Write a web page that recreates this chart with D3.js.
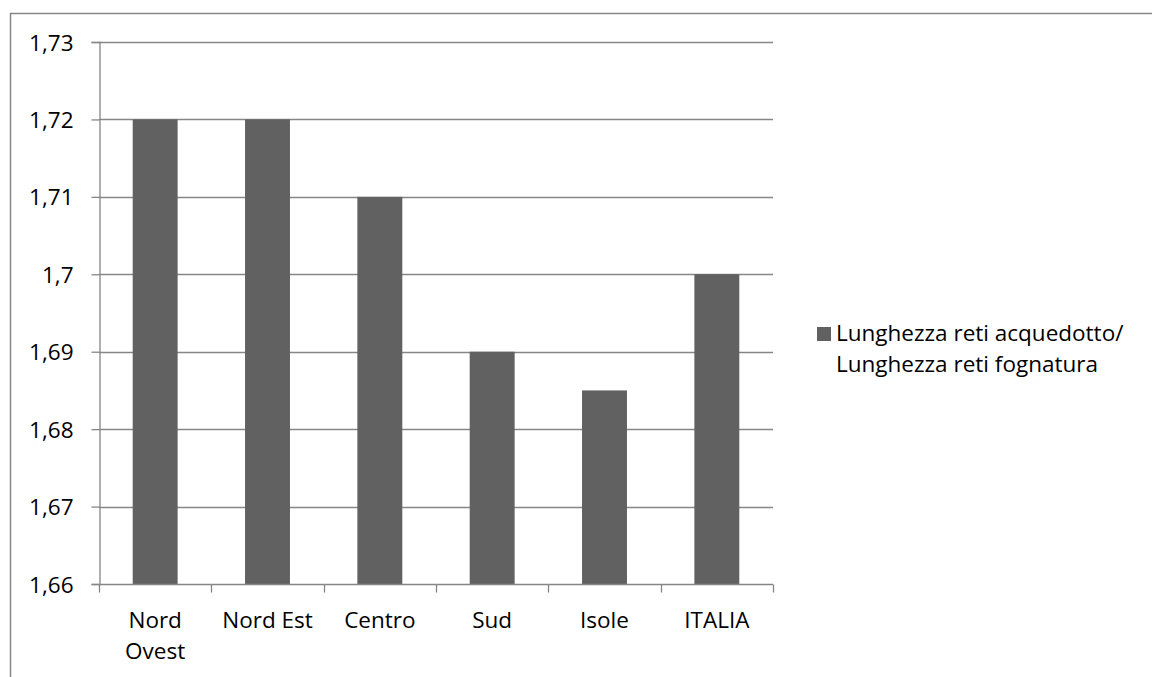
<!DOCTYPE html>
<html>
<head>
<meta charset="utf-8">
<script src="https://cdn.jsdelivr.net/npm/d3@7"></script>
<style>
	body { margin: 0; background: #fff; }
	svg { display: block; font-family: "Open Sans", sans-serif; }
</style>
</head>
<body>
<div id="chart"></div>
<script>
'use strict';

// data
var categories = [["Nord", "Ovest"], ["Nord Est"], ["Centro"], ["Sud"], ["Isole"], ["ITALIA"]];
var values = [1.72, 1.72, 1.71, 1.69, 1.685, 1.70];
var yTicks = [1.66, 1.67, 1.68, 1.69, 1.70, 1.71, 1.72, 1.73];
var seriesName = ["Lunghezza reti acquedotto/", "Lunghezza reti fognatura"];

var width = 1152, height = 677;
var barColour = "#616161";
var lineColour = "#868686";
var fontSize = 22.5;

var svg = d3.select("#chart").append("svg")
	.attr("width", width)
	.attr("height", height);

// outer chart border
svg.append("rect")
	.attr("x", 10.5).attr("y", 13.5)
	.attr("width", 1160).attr("height", 700)
	.attr("fill", "none")
	.attr("stroke", lineColour)
	.attr("stroke-width", 1.5);

var plot = { left: 99, right: 773, top: 42, bottom: 584 };

var x = d3.scaleBand()
	.domain(d3.range(categories.length))
	.range([plot.left, plot.right])
	.paddingInner(0.6)
	.paddingOuter(0.3);

var y = d3.scaleLinear()
	.domain([1.66, 1.73])
	.range([plot.bottom, plot.top]);

// gridlines
svg.append("g")
	.selectAll("line")
	.data(yTicks.slice(1))
	.join("line")
	.attr("x1", plot.left).attr("x2", plot.right)
	.attr("y1", function (d) { return Math.round(y(d)) + 0.5; })
	.attr("y2", function (d) { return Math.round(y(d)) + 0.5; })
	.attr("stroke", lineColour)
	.attr("stroke-width", 1.3);

// bars
svg.append("g")
	.selectAll("rect")
	.data(values)
	.join("rect")
	.attr("x", function (d, i) { return x(i); })
	.attr("width", x.bandwidth())
	.attr("y", function (d) { return y(d); })
	.attr("height", function (d) { return y(1.66) - y(d); })
	.attr("fill", barColour);

// y axis
var yAxis = svg.append("g")
	.attr("transform", "translate(" + (plot.left + 0.5) + ",0)")
	.call(d3.axisLeft(y).tickValues(yTicks).tickSize(8).tickPadding(18)
		.tickFormat(function (d) { return d3.format(".2~f")(d).replace(".", ","); }));
yAxis.selectAll("line, path").attr("stroke", lineColour).attr("stroke-width", 1.3);
yAxis.selectAll("text").attr("font-size", fontSize).attr("fill", "#000")
	.attr("font-family", "Open Sans, sans-serif")
	.attr("dy", "0.36em");

// x axis with boundary ticks
var xAxis = svg.append("g")
	.attr("transform", "translate(0," + (plot.bottom + 0.5) + ")");
xAxis.append("line")
	.attr("x1", plot.left).attr("x2", plot.right)
	.attr("stroke", lineColour).attr("stroke-width", 1.3);
var step = (plot.right - plot.left) / categories.length;
xAxis.selectAll(".tick")
	.data(d3.range(categories.length + 1))
	.join("line")
	.attr("class", "tick")
	.attr("x1", function (d) { return Math.round(plot.left + d * step) + 0.5; })
	.attr("x2", function (d) { return Math.round(plot.left + d * step) + 0.5; })
	.attr("y1", 0).attr("y2", 8)
	.attr("stroke", lineColour).attr("stroke-width", 1.3);

var labels = xAxis.selectAll(".label")
	.data(categories)
	.join("text")
	.attr("class", "label")
	.attr("text-anchor", "middle")
	.attr("font-size", fontSize)
	.attr("transform", function (d, i) {
		return "translate(" + (x(i) + x.bandwidth() / 2) + ",43)";
	});
labels.selectAll("tspan")
	.data(function (d) { return d; })
	.join("tspan")
	.attr("x", 0)
	.attr("dy", function (d, i) { return i === 0 ? 0 : 31; })
	.text(function (d) { return d; });

// legend
var legend = svg.append("g").attr("transform", "translate(817,327)");
legend.append("rect")
	.attr("width", 14).attr("height", 14)
	.attr("fill", barColour);
legend.selectAll("text")
	.data(seriesName)
	.join("text")
	.attr("x", 19)
	.attr("y", function (d, i) { return 14 + i * 31; })
	.attr("font-size", fontSize)
	.text(function (d) { return d; });
</script>
</body>
</html>
